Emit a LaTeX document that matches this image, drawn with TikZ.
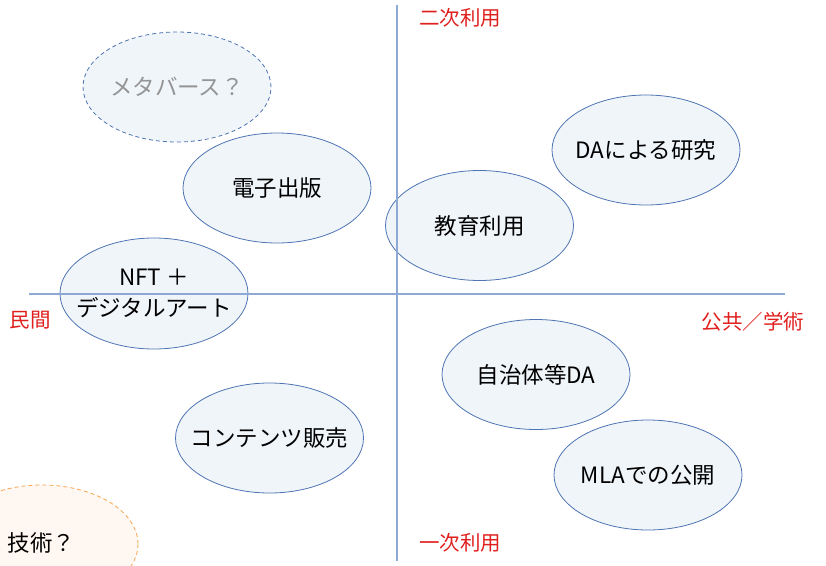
\documentclass[tikz,border=0pt]{standalone}
\usepackage{fontspec}
\setmainfont{Noto Sans CJK JP}
\usetikzlibrary{shapes.geometric}
\definecolor{bubline}{HTML}{4F74B3}
\definecolor{bubfill}{HTML}{F0F5FA}
\definecolor{axisc}{HTML}{8EA9D4}
\definecolor{lblred}{HTML}{E0201E}
\definecolor{orline}{HTML}{F4A54E}
\definecolor{orfill}{HTML}{FFF7F2}
\begin{document}
\begin{tikzpicture}[x=1pt,y=-1pt,
  bub/.style={ellipse, draw=bubline, fill=bubfill, line width=0.8pt,
    minimum width=188pt, minimum height=110pt, inner sep=0pt},
  bubtxt/.style={font=\fontsize{22.5}{31}\selectfont, align=center, text=black, inner sep=0pt},
  axisline/.style={draw=axisc, line width=1.3pt},
  lbl/.style={text=lblred, font=\fontsize{20.5}{24}\selectfont, inner sep=0pt}]
\useasboundingbox (0,0) rectangle (826,565);
% bubbles
\node[bub, dash pattern=on 4pt off 3pt,
  label={[bubtxt, text=black!42]center:メタバース？}] (meta) at (177,87) {};
\node[bub, label={[bubtxt]center:電子出版}] (denshi) at (277,188) {};
\node[bub, label={[bubtxt]center:DAによる研究}] (dares) at (646,150) {};
\node[bub, label={[bubtxt]center:教育利用}] (kyoiku) at (479.5,225.5) {};
\node[bub, minimum height=111pt, label={[bubtxt]center:NFT ＋\\デジタルアート}] (nft) at (154,293.5) {};
\node[bub, label={[bubtxt]center:自治体等DA}] (jichi) at (536,374.5) {};
\node[bub, label={[bubtxt]center:コンテンツ販売}] (contents) at (269.5,438) {};
\node[bub, label={[bubtxt]center:MLAでの公開}] (mla) at (648,475) {};
\node[bub, draw=orline, fill=orfill, dash pattern=on 4pt off 3pt,
  minimum width=192pt, minimum height=118pt] (gijutsu) at (42,544) {};
\node[bubtxt] (gijutsutxt) at (41.5,543) {技術？};
% axes
\coordinate (vtop) at (397,5);
\coordinate (vbot) at (397,561);
\coordinate (hleft) at (29,294);
\coordinate (hright) at (785,294);
\draw[axisline] (vtop) -- (vbot);
\draw[axisline] (hleft) -- (hright);
% labels
\node[lbl] (niji) at (460,18) {二次利用};
\node[lbl] (minkan) at (30,320) {民間};
\node[lbl] (kokyo) at (753,322) {公共／学術};
\node[lbl] (ichiji) at (460,543) {一次利用};
\end{tikzpicture}
\end{document}
